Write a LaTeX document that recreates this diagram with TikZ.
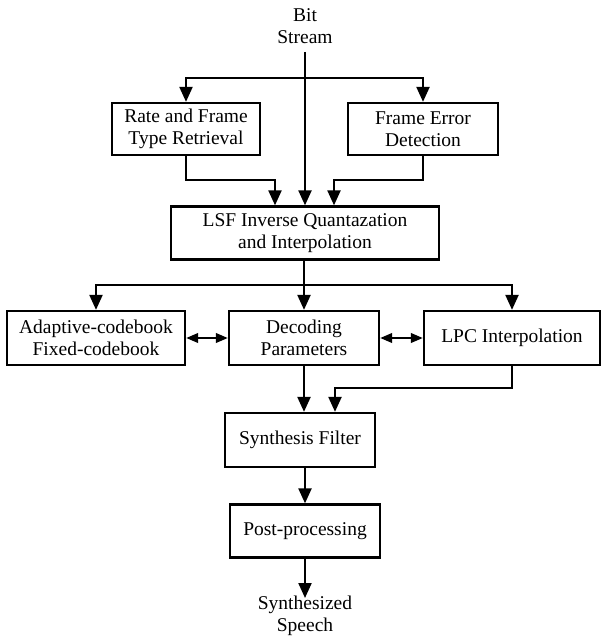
\documentclass[tikz,border=0pt]{standalone}
\usepackage{fontspec}
\setmainfont{Liberation Serif}
\usetikzlibrary{arrows.meta}
\begin{document}
\begin{tikzpicture}[x=1pt,y=-1pt,
  box/.style={draw, line width=2.3pt, inner sep=0pt, align=center, font=\fontsize{19.5}{22}\selectfont},
  lbl/.style={align=center, inner sep=0pt, font=\fontsize{19.5}{22}\selectfont},
  arr/.style={line width=2.2pt, -{Triangle[length=15pt,width=13pt]}},
  darr/.style={line width=2.2pt, {Triangle[length=12pt,width=9.5pt]}-{Triangle[length=12pt,width=9.5pt]}},
  ln/.style={line width=2.2pt}]
\useasboundingbox (0,0) rectangle (601,644);
\node[lbl] (bit) at (305,26) {Bit\\Stream};
\node[box, minimum width=148pt, minimum height=52pt] (rate) at (186,129) {Rate and Frame\\Type Retrieval};
\node[box, minimum width=150pt, minimum height=52pt] (fed) at (423,129) {Frame Error\\Detection};
\node[box, minimum width=268pt, minimum height=53pt] (lsf) at (305,233) {LSF Inverse Quantazation\\and Interpolation};
\node[box, minimum width=178pt, minimum height=54pt] (adapt) at (96,338) {Adaptive-codebook\\Fixed-codebook};
\node[box, minimum width=150pt, minimum height=54pt] (dec) at (304,338) {Decoding\\Parameters};
\node[box, minimum width=176pt, minimum height=54pt] (lpc) at (512,338) {LPC Interpolation};
\node[box, minimum width=150pt, minimum height=54pt] (synth) at (300,440) {Synthesis Filter};
\node[box, minimum width=150pt, minimum height=53pt] (post) at (305,531) {Post-processing};
\node[lbl] (speech) at (305,616) {Synthesized\\Speech};

\coordinate (top) at (305,52);
\coordinate (j1) at (305,78);
\draw[arr] (top) -- (top |- lsf.north);
\draw[arr] (j1) -| (rate.north);
\draw[arr] (j1) -| (fed.north);
\coordinate (r1) at (275,180);
\coordinate (f1) at (334,180);
\draw[arr] (rate.south) |- (r1) -- (r1 |- lsf.north);
\draw[arr] (fed.south) |- (f1) -- (f1 |- lsf.north);

\coordinate (j2) at (304,285);
\draw[ln] (j2 |- lsf.south) -- (j2);
\draw[arr] (j2) -| (adapt.north);
\draw[arr] (j2) -- (dec.north);
\draw[arr] (j2) -| (lpc.north);

\draw[darr] (adapt.east) -- (dec.west);
\draw[darr] (dec.east) -- (lpc.west);

\draw[arr] (dec.south) -- (dec.south |- synth.north);
\coordinate (l1) at (335,388);
\draw[arr] (lpc.south) |- (l1) -- (l1 |- synth.north);
\draw[arr] (synth.south -| post.north) -- (post.north);
\coordinate (s1) at (305,598);
\draw[arr] (post.south) -- (s1);
\end{tikzpicture}
\end{document}
